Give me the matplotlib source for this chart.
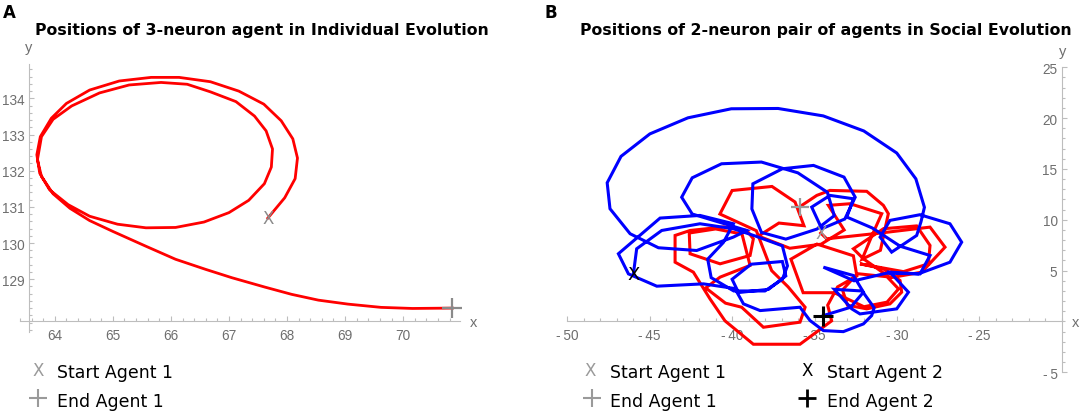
import matplotlib
matplotlib.use("Agg")
import matplotlib.pyplot as plt
from matplotlib.ticker import MultipleLocator, FixedLocator, FuncFormatter
from matplotlib.lines import Line2D

W, H, DPI = 1084, 414, 100

# ---------------- Panel A : individual evolution (3-neuron agent) ----------------
a_x = [67.67, 67.96, 68.14, 68.18, 68.10, 67.90, 67.60, 67.17, 66.68, 66.14, 65.66,
       65.11, 64.60, 64.20, 63.94, 63.75, 63.69, 63.74, 63.91, 64.23, 64.60, 65.08,
       65.57, 66.08, 66.57, 67.00, 67.34, 67.61, 67.73, 67.75, 67.64, 67.44, 67.12,
       66.68, 66.28, 65.83, 65.28, 64.77, 64.29, 63.97, 63.77, 63.70, 63.77, 63.97,
       64.26, 64.60, 65.00, 65.57, 66.08, 66.60, 67.05, 67.62, 68.08, 68.54, 69.05,
       69.62, 70.16, 70.85]
a_y = [130.69, 131.25, 131.78, 132.35, 132.88, 133.38, 133.84, 134.20, 134.46, 134.58,
       134.58, 134.48, 134.23, 133.86, 133.45, 132.94, 132.44, 131.93, 131.47, 131.06,
       130.74, 130.52, 130.42, 130.43, 130.58, 130.84, 131.18, 131.64, 132.10, 132.60,
       133.10, 133.51, 133.91, 134.18, 134.39, 134.44, 134.37, 134.15, 133.79, 133.42,
       132.94, 132.30, 131.84, 131.36, 130.96, 130.62, 130.32, 129.91, 129.55, 129.27,
       129.04, 128.78, 128.58, 128.42, 128.31, 128.22, 128.19, 128.20]
a_xticks = [64, 65, 66, 67, 68, 69, 70]
a_yticks = [129, 130, 131, 132, 133, 134]

# ---------------- Panel B : social evolution (2-neuron pair) ----------------
blue_x = [-45.99, -45.79, -44.27, -41.95, -39.92, -38.53, -36.95, -36.64, -36.95, -38.01,
          -39.90, -41.27, -41.48, -40.53, -39.92, -41.95, -44.37, -46.90, -46.29, -44.57,
          -41.74, -39.72, -40.00, -38.85, -36.95, -36.74, -37.79, -39.69, -39.31, -38.30,
          -35.88, -35.27, -34.46, -33.25, -32.03, -31.53, -31.38, -32.11, -33.80, -32.74,
          -32.24, -30.01, -29.30, -30.42, -28.70, -26.78, -26.07, -26.78, -28.60, -30.42,
          -31.02, -30.32, -28.80, -28.54, -28.33, -28.85, -30.01, -32.01, -34.47, -37.21,
          -40.05, -42.68, -44.99, -46.74, -47.58, -47.41, -46.19, -44.47, -42.15, -39.92,
          -39.11, -42.42, -43.06, -42.42, -40.64, -38.22, -36.01, -34.22, -33.80, -34.85,
          -36.74, -38.22, -38.80, -38.74, -36.95, -35.06, -33.21, -32.53, -33.16, -34.56,
          -35.17, -34.06, -32.64, -33.04, -31.50, -29.80, -27.99, -28.60, -30.64, -32.60,
          -34.46, -32.64, -32.03, -32.80, -34.46]
blue_y = [4.68, 7.15, 8.95, 9.61, 9.12, 8.37, 7.44, 5.47, 4.15, 3.00,
          3.00, 4.31, 6.13, 7.77, 9.61, 10.43, 10.17, 6.66, 4.68, 3.47,
          3.70, 3.21, 4.15, 5.63, 5.90, 4.48, 3.16, 2.83, 1.73, 1.07,
          1.40, 0.09, -0.90, -1.00, -0.24, 0.58, 1.35, 3.00, 3.16, 1.24,
          0.74, 1.24, 2.88, 4.85, 4.68, 5.83, 7.80, 9.61, 10.50, 9.94,
          8.30, 6.82, 8.46, 9.80, 11.23, 14.03, 16.57, 18.74, 20.22, 20.95,
          20.92, 20.03, 18.45, 16.24, 13.64, 11.09, 8.63, 7.25, 6.98, 8.30,
          8.95, 10.57, 12.22, 14.13, 15.51, 15.68, 14.62, 12.71, 10.41, 9.09,
          8.10, 8.76, 11.07, 13.54, 15.02, 15.35, 14.20, 12.22, 10.08, 9.12,
          11.25, 12.40, 12.07, 10.27, 9.20, 7.40, 6.49, 4.68, 4.75, 4.00,
          5.34, 4.52, 2.88, 1.40, 0.58]

red_x = [-34.62, -34.26, -31.00, -27.99, -27.08, -28.49, -30.40, -32.03, -32.64, -30.82,
         -28.80, -27.99, -28.09, -29.60, -32.24, -30.82, -29.81, -29.71, -30.42, -31.83,
         -33.00, -33.30, -32.40, -30.60, -29.90, -30.60, -32.00, -33.80, -35.69, -36.43,
         -34.85, -32.64, -32.43, -33.60, -34.20, -33.96, -35.88, -38.71, -40.43, -41.34,
         -42.35, -43.46, -43.46, -42.55, -40.50, -39.11, -38.71, -38.91, -40.73, -42.55,
         -42.60, -41.00, -39.40, -38.91, -40.73, -41.60, -40.40, -39.42, -38.10, -35.88,
         -35.57, -36.60, -37.60, -38.53, -40.74, -40.00, -37.58, -36.18, -35.64, -37.16,
         -38.40, -36.50, -34.60, -33.20, -34.16, -32.84, -30.92, -31.50, -32.11, -31.00,
         -30.52, -30.82, -31.83, -34.06, -34.86, -35.88]
red_y = [8.70, 8.13, 8.70, 9.28, 7.31, 4.85, 4.30, 6.16, 7.15, 9.12,
         9.40, 7.48, 5.67, 4.90, 5.67, 5.18, 4.03, 2.88, 1.73, 1.24,
         1.60, 3.10, 4.70, 4.40, 3.20, 1.90, 1.45, 2.83, 2.83, 6.13,
         7.61, 6.46, 4.48, 3.40, 1.60, 0.06, -2.24, -2.24, 0.06, 2.22,
         4.85, 5.83, 8.46, 8.95, 9.30, 8.95, 8.13, 6.49, 5.67, 6.66,
         8.70, 9.10, 8.60, 5.51, 4.36, 3.30, 1.80, 1.40, -0.57, -0.07,
         1.40, 3.40, 5.00, 8.93, 10.57, 12.88, 13.28, 11.75, 9.42, 9.68,
         8.40, 7.20, 7.60, 9.00, 11.42, 11.58, 10.60, 8.50, 6.13, 7.00,
         10.60, 11.42, 12.80, 12.89, 12.40, 11.30]
b_xticks = [-50, -45, -40, -35, -30, -25]
b_yticks = [-5, 5, 10, 15, 20, 25]

AXC = "#bdbdbd"
LBC = "#6e6e6e"
GRAY = "#8a8a8a"
LGRAY = "#9a9a9a"
TICKFONT = "Liberation Sans"

fig = plt.figure(figsize=(W / DPI, H / DPI), dpi=DPI)
fig.patch.set_facecolor("white")


def px_rect(x0, y0, x1, y1):
    return [x0 / W, 1 - y1 / H, (x1 - x0) / W, (y1 - y0) / H]


def fmt(v, p):
    v = int(round(v))
    return ("-\u2009%d" % -v) if v < 0 else "%d" % v


def style(ax):
    for s in ("top", "right"):
        ax.spines[s].set_visible(False)
    for s in ("left", "bottom"):
        ax.spines[s].set_color(AXC)
        ax.spines[s].set_linewidth(0.8)
    ax.tick_params(which="both", direction="in", color=AXC, width=0.8,
                   labelcolor=LBC, labelsize=9.8)
    ax.tick_params(which="major", length=3.6)
    ax.tick_params(axis="y", which="major", pad=3)
    ax.tick_params(axis="x", which="major", pad=5)
    ax.tick_params(which="minor", length=2.0)
    for lab in ax.get_xticklabels(which="both") + ax.get_yticklabels(which="both"):
        lab.set_fontfamily(TICKFONT)
    ax.patch.set_alpha(0)


def finish_ticks(ax):
    for lab in ax.get_xticklabels() + ax.get_yticklabels():
        lab.set_fontfamily(TICKFONT)


# ---- Panel A axes ----
axA = fig.add_axes(px_rect(20, 65, 460, 332.6))
axA.set_xlim(63.40, 70.98)
axA.set_ylim(127.55, 134.95)
axA.spines["left"].set_position(("data", 63.557))
axA.spines["bottom"].set_position(("data", 127.835))
axA.xaxis.set_major_locator(FixedLocator(a_xticks))
axA.xaxis.set_minor_locator(MultipleLocator(0.2))
axA.yaxis.set_major_locator(FixedLocator(a_yticks))
axA.yaxis.set_minor_locator(MultipleLocator(0.2))
axA.xaxis.set_major_formatter(FuncFormatter(fmt))
axA.yaxis.set_major_formatter(FuncFormatter(fmt))
style(axA)
axA.plot(a_x, a_y, color="#ff0000", lw=2.0, solid_joinstyle="round", zorder=3)
axA.text(a_x[0], a_y[0], "X", color=GRAY, fontsize=12, ha="center", va="center", zorder=4)
axA.plot([a_x[-1]], [a_y[-1]], marker="+", ms=14, mew=1.6, color=GRAY, clip_on=False, zorder=4)

# ---- Panel B axes ----
axB = fig.add_axes(px_rect(567.3, 68.3, 1061.7, 373.3))
axB.set_xlim(-50, -20)
axB.set_ylim(-5, 25)
axB.spines["left"].set_position(("data", -20))
axB.spines["bottom"].set_position(("data", 0))
axB.xaxis.set_major_locator(FixedLocator(b_xticks))
axB.xaxis.set_minor_locator(MultipleLocator(1))
axB.yaxis.set_major_locator(FixedLocator(b_yticks))
axB.yaxis.set_minor_locator(MultipleLocator(1))
axB.xaxis.set_major_formatter(FuncFormatter(fmt))
axB.yaxis.set_major_formatter(FuncFormatter(fmt))
style(axB)
axB.plot(red_x, red_y, color="#ff0000", lw=2.2, solid_joinstyle="miter", zorder=3)
axB.plot(blue_x, blue_y, color="#0000ff", lw=2.2, solid_joinstyle="miter", zorder=3)
axB.text(red_x[0], red_y[0], "X", color=LGRAY, fontsize=12, ha="center", va="center", zorder=5)
axB.plot([red_x[-1]], [red_y[-1]], marker="+", ms=13, mew=1.6, color=LGRAY, zorder=5)
axB.text(blue_x[0], blue_y[0], "X", color="black", fontsize=13, ha="center", va="center", zorder=5)
axB.plot([blue_x[-1]], [blue_y[-1]], marker="+", ms=14, mew=2.2, color="black", zorder=5)

# ---- titles, axis names, panel letters ----
def ftext(x, y, s, **kw):
    fig.text(x / W, 1 - y / H, s, **kw)

ftext(3, 18.5, "A", fontsize=12, fontweight="bold", va="baseline", ha="left")
ftext(545, 18.5, "B", fontsize=12, fontweight="bold", va="baseline", ha="left")
ftext(262, 35, "Positions of 3-neuron agent in Individual Evolution",
      fontsize=11.3, fontweight="bold", ha="center", va="baseline")
ftext(826, 35, "Positions of 2-neuron pair of agents in Social Evolution",
      fontsize=11.3, fontweight="bold", ha="center", va="baseline")
ftext(28.3, 48.3, "y", fontsize=10.5, color=LBC, ha="center", va="center", family=TICKFONT)
ftext(474, 323.3, "x", fontsize=10.5, color=LBC, ha="center", va="center", family=TICKFONT)
ftext(1063, 51.7, "y", fontsize=10.5, color=LBC, ha="center", va="center", family=TICKFONT)
ftext(1076, 322.7, "x", fontsize=10.5, color=LBC, ha="center", va="center", family=TICKFONT)

# ---- legends ----
def leg_x(x, y, color):
    ftext(x, y, "X", fontsize=12, color=color, ha="center", va="center")

def leg_plus(x, y, color, mew):
    fig.add_artist(Line2D([x / W], [1 - y / H], marker="+", ms=13, mew=mew,
                          color=color, transform=fig.transFigure))

leg_x(38, 371.5, LGRAY)
ftext(57, 378, "Start Agent 1", fontsize=12.5, va="baseline", ha="left")
leg_plus(38, 399, LGRAY, 1.5)
ftext(57, 407, "End Agent 1", fontsize=12.5, va="baseline", ha="left")

leg_x(590, 371.5, LGRAY)
ftext(610, 378, "Start Agent 1", fontsize=12.5, va="baseline", ha="left")
leg_plus(591.7, 399, LGRAY, 1.5)
ftext(610, 407, "End Agent 1", fontsize=12.5, va="baseline", ha="left")

leg_x(806.7, 371.5, "black")
ftext(826.7, 378, "Start Agent 2", fontsize=12.5, va="baseline", ha="left")
leg_plus(806.7, 399, "black", 2.0)
ftext(826.7, 407, "End Agent 2", fontsize=12.5, va="baseline", ha="left")

fig.canvas.draw()
finish_ticks(axA)
finish_ticks(axB)
fig.savefig("out.png", dpi=DPI, facecolor="white")
